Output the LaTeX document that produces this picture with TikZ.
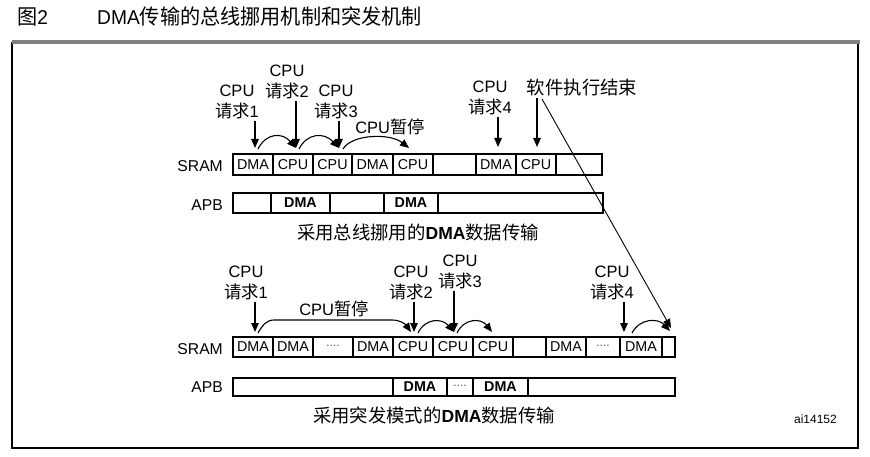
\documentclass[tikz,border=0pt]{standalone}
\usepackage{fontspec}
\usepackage{graphicx}
\setmainfont{Liberation Sans}
\newfontfamily\cjk[Scale=1.05]{Noto Sans CJK SC}
\usetikzlibrary{arrows.meta}
\newcommand\mkcell[6]{\node[cell, minimum width={(#3-#2)*1pt}, minimum height={(#5-#4)*1pt}] (#1) at ({(#2+#3)/2},{(#4+#5)/2}) {#6};}
\begin{document}
\begin{tikzpicture}[x=1pt,y=-1pt,
  cell/.style={draw, line width=1.4pt, inner sep=0pt, font=\fontsize{14.3}{14}\selectfont},
  barbox/.style={draw, line width=2.6pt, inner sep=0pt},
  lab/.style={align=center, font=\fontsize{16.5}{20.5}\selectfont, inner sep=0pt, outer sep=2pt},
  captext/.style={font=\fontsize{17.5}{18}\selectfont, inner sep=0pt},
  bus/.style={anchor=east, font=\fontsize{15.7}{16}\selectfont, inner sep=0pt},
  arr/.style={-{Triangle[length=9pt,width=7.5pt]}, line width=1.3pt},
  carr/.style={-{Triangle[length=9pt,width=7.5pt]}, line width=1.1pt},
  larr/.style={-{Triangle[length=9pt,width=7.5pt]}, line width=0.9pt}]
\useasboundingbox (0,0) rectangle (870,457);
% frame
\draw[line width=1.2pt] (12,42) -- (12,448) -- (858,448) -- (858,42);
\draw[line width=4pt, black!50] (12,42) -- (860,42);
% title
\node[anchor=west, inner sep=0pt, font=\fontsize{20}{20}\selectfont] (fignum) at (17,17) {\scalebox{0.96}[1]{{\cjk 图}2}};
\node[anchor=west, inner sep=0pt, font=\fontsize{20}{20}\selectfont] (title) at (97,17) {\scalebox{0.96}[1]{DMA{\cjk 传输的总线挪用机制和突发机制}}};

% ===== upper: cycle stealing =====
\node[bus] (sramAl) at (223,166) {SRAM};
\node[bus] (apbAl) at (223,205) {APB};
\mkcell{a1}{233}{273}{154}{175}{DMA}
\mkcell{a2}{273}{313}{154}{175}{CPU}
\mkcell{a3}{313}{352}{154}{175}{CPU}
\mkcell{a4}{352}{393}{154}{175}{DMA}
\mkcell{a5}{393}{433}{154}{175}{CPU}
\mkcell{a6}{433}{476}{154}{175}{}
\mkcell{a7}{476}{516}{154}{175}{DMA}
\mkcell{a8}{516}{556}{154}{175}{CPU}
\mkcell{a9}{556}{602}{154}{175}{}
\node[barbox, minimum width=369pt, minimum height=21pt] (sramA) at (417.5,164.5) {};
\mkcell{b1}{233}{271}{193}{213}{}
\mkcell{b2}{271}{330}{193}{213}{\bfseries DMA}
\mkcell{b3}{330}{384}{193}{213}{}
\mkcell{b4}{384}{438}{193}{213}{\bfseries DMA}
\mkcell{b5}{438}{603}{193}{213}{}
\node[barbox, minimum width=370pt, minimum height=20pt] (apbA) at (418,203) {};
\node[captext] (capA) at (418,233) {{\cjk 采用总线挪用的}{\bfseries DMA}{\cjk 数据传输}};

\node[lab] (ru1) at (237,102) {CPU\\{\cjk 请求}1};
\node[lab] (ru2) at (287,82) {CPU\\{\cjk 请求}2};
\node[lab] (ru3) at (336,102) {CPU\\{\cjk 请求}3};
\node[lab] (ru4) at (490,98) {CPU\\{\cjk 请求}4};
\node[lab] (pauseA) at (390,126.5) {CPU{\cjk 暂停}};
\node[lab, font=\fontsize{17.5}{20}\selectfont] (swend) at (582,88) {\cjk 软件执行结束};

\coordinate (tu1) at (255,148);
\coordinate (tu2) at (296,148);
\coordinate (tu3) at (339,148);
\coordinate (tu4) at (498,147);
\coordinate (tue) at (537,147);
\draw[arr] (tu1 |- ru1.south) -- (tu1);
\draw[arr] (tu2 |- ru2.south) -- (tu2);
\draw[arr] (tu3 |- ru3.south) -- (tu3);
\draw[arr] (tu4 |- ru4.south) -- (tu4);
\draw[arr] (tue |- swend.south) -- (tue);
\coordinate (cu1s) at (258,149);
\coordinate (cu2s) at (299,149);
\coordinate (cu3s) at (343,149);
\coordinate (cu3e) at (409,148);
\draw[carr] (cu1s) .. controls (266,133) and (282,132) .. (tu2);
\draw[carr] (cu2s) .. controls (307,133) and (324,132) .. (tu3);
\draw[carr] (cu3s) .. controls (352,134) and (390,133) .. (cu3e);

% ===== lower: burst =====
\node[bus] (sramBl) at (223,349) {SRAM};
\node[bus] (apbBl) at (223,387) {APB};
\mkcell{c1}{233}{273}{337}{357}{DMA}
\mkcell{c2}{273}{313}{337}{357}{DMA}
\mkcell{c3}{313}{353}{337}{357}{\fontsize{10}{10}\selectfont····}
\mkcell{c4}{353}{393}{337}{357}{DMA}
\mkcell{c5}{393}{433}{337}{357}{CPU}
\mkcell{c6}{433}{473}{337}{357}{CPU}
\mkcell{c7}{473}{513}{337}{357}{CPU}
\mkcell{c8}{513}{546}{337}{357}{}
\mkcell{c9}{546}{586}{337}{357}{DMA}
\mkcell{c10}{586}{620}{337}{357}{\fontsize{10}{10}\selectfont····}
\mkcell{c11}{620}{662}{337}{357}{DMA}
\mkcell{c12}{662}{675}{337}{357}{}
\node[barbox, minimum width=442pt, minimum height=20pt] (sramB) at (454,347) {};
\mkcell{d1}{233}{393}{378}{396}{}
\mkcell{d2}{393}{447}{378}{396}{\bfseries DMA}
\mkcell{d3}{447}{473}{378}{396}{\fontsize{10}{10}\selectfont····}
\mkcell{d4}{473}{528}{378}{396}{\bfseries DMA}
\mkcell{d5}{528}{675}{378}{396}{}
\node[barbox, minimum width=442pt, minimum height=18pt] (apbB) at (454,387) {};
\node[captext] (capB) at (434,415) {{\cjk 采用突发模式的}{\bfseries DMA}{\cjk 数据传输}};

\node[lab] (rl1) at (246,283) {CPU\\{\cjk 请求}1};
\node[lab] (rl2) at (411,283) {CPU\\{\cjk 请求}2};
\node[lab] (rl3) at (460,272) {CPU\\{\cjk 请求}3};
\node[lab] (rl4) at (612,283) {CPU\\{\cjk 请求}4};
\node[lab] (pauseB) at (334,309) {CPU{\cjk 暂停}};

\coordinate (tl1) at (255,332);
\coordinate (tl2) at (414,332);
\coordinate (tl3) at (454,332);
\coordinate (tl4) at (624,332);
\draw[arr] (tl1 |- rl1.south) -- (tl1);
\draw[arr] (tl2 |- rl2.south) -- (tl2);
\draw[arr] (tl3 |- rl3.south) -- (tl3);
\draw[arr] (tl4 |- rl4.south) -- (tl4);
\coordinate (cl1s) at (258,333);
\coordinate (cl1e) at (411,332);
\coordinate (cl2s) at (418,333);
\coordinate (cl3s) at (457,333);
\coordinate (cl3e) at (492,332);
\coordinate (cl4s) at (632,333);
\coordinate (cl4e) at (670,331);
\draw[carr] (cl1s) to[out=60,in=180] (274,320) -- (392,320) to[out=0,in=125] (cl1e);
\draw[carr] (cl2s) .. controls (425,318) and (442,318) .. (tl3);
\draw[carr] (cl3s) .. controls (464,318) and (481,318) .. (cl3e);
\draw[carr] (cl4s) .. controls (640,318) and (658,318) .. (cl4e);

% software end line
\coordinate (endS) at (542,99);
\coordinate (endT) at (671,328);
\draw[larr] (endS) -- (endT);

\node[anchor=east, inner sep=0pt, font=\fontsize{12}{12}\selectfont] (code) at (837,419) {ai14152};
\end{tikzpicture}
\end{document}
